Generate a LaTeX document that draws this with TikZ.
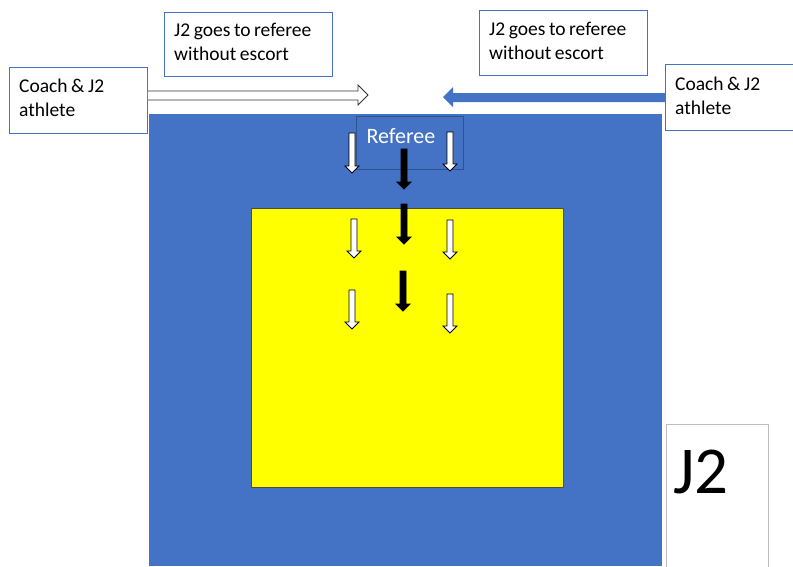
\documentclass[tikz,border=0pt]{standalone}
\usepackage{fontspec}
\setmainfont{Carlito}[WordSpace=0.8]
\definecolor{mblue}{HTML}{4472C4}
\definecolor{dblue}{HTML}{2F528F}
\definecolor{myel}{HTML}{FFFF00}
\definecolor{lgray}{HTML}{BFBFBF}
\newcommand{\mydarrow}[4]{%
  \filldraw[fill=#4, draw=black, line width=0.8pt]
    (#1-3,#2) -- (#1+3,#2) -- (#1+3,#3-7) -- (#1+7,#3-7) -- (#1,#3)
    -- (#1-7,#3-7) -- (#1-3,#3-7) -- cycle;}
\tikzset{
  framebox/.style={draw=mblue, line width=0.9pt, fill=white, rectangle,
    anchor=north west, inner sep=0pt},
  boxtext/.style={anchor=west, inner xsep=10pt, inner ysep=0pt, align=left,
    font=\fontsize{19.5}{24}\selectfont},
}
\begin{document}
\begin{tikzpicture}[x=1pt,y=-1pt]
\useasboundingbox (0,0) rectangle (793,566);
\clip (0,0) rectangle (793,566);
\fill[white] (0,0) rectangle (793,566);
% blue field
\fill[mblue] (149,114) rectangle (662,566);
% yellow square
\node[draw=black!70, line width=0.5pt, fill=myel, rectangle, anchor=north west,
  minimum width=312pt, minimum height=279pt, inner sep=0pt] (mat) at (251,208) {};
% referee box
\node[draw=dblue, line width=0.8pt, fill=mblue, rectangle, anchor=north west,
  minimum width=107pt, minimum height=53pt, inner sep=0pt] (refbox) at (356,116) {};
\node[text=white, font=\fontsize{22}{24}\selectfont] (reftxt) at (401,136) {Referee};
% text boxes
\node[framebox, minimum width=138pt, minimum height=66pt] (lcoach) at (9,67) {};
\node[boxtext] (lcoachtxt) at ([yshift=2.5pt]lcoach.west) {Coach \& J2\\athlete};
\node[framebox, minimum width=168pt, minimum height=64pt] (ltop) at (164,12) {};
\node[boxtext] (ltoptxt) at ([yshift=3pt]ltop.west) {J2 goes to referee\\without escort};
\node[framebox, minimum width=168pt, minimum height=65pt] (rtop) at (479,10) {};
\node[boxtext] (rtoptxt) at ([yshift=2pt]rtop.west) {J2 goes to referee\\without escort};
\node[framebox, minimum width=140pt, minimum height=66pt] (rcoach) at (665,64) {};
\node[boxtext] (rcoachtxt) at ([yshift=2pt]rcoach.west) {Coach \& J2\\athlete};
% J2 box
\node[draw=lgray, line width=0.8pt, fill=white, rectangle, anchor=north west,
  minimum width=102pt, minimum height=150pt, inner sep=0pt] (jbox) at (665.5,423.5) {};
\node[font=\fontsize{67}{70}\selectfont, anchor=base west, inner sep=0pt] (jtxt) at (673,493) {J2};
% left hollow arrow
\filldraw[fill=white, draw=black!80, line width=0.8pt]
  (lcoach.east |- 0,91) -- (358,91) -- (358,85) -- (368,95) -- (358,105) -- (358,100) -- (lcoach.east |- 0,100) ;
% right blue arrow
\fill[mblue] (rcoach.west |- 0,93) -- (453,93) -- (453,87) -- (443,97) -- (453,107) -- (453,102) -- (rcoach.west |- 0,102) -- cycle;
% down arrows
\mydarrow{352}{133}{173}{white}
\mydarrow{354}{219}{258}{white}
\mydarrow{352}{290}{329}{white}
\mydarrow{450}{132}{171}{white}
\mydarrow{450}{220}{259}{white}
\mydarrow{450}{294}{333}{white}
\mydarrow{404}{149}{189}{black}
\mydarrow{404}{204}{244}{black}
\mydarrow{403}{271}{311}{black}
\end{tikzpicture}
\end{document}
